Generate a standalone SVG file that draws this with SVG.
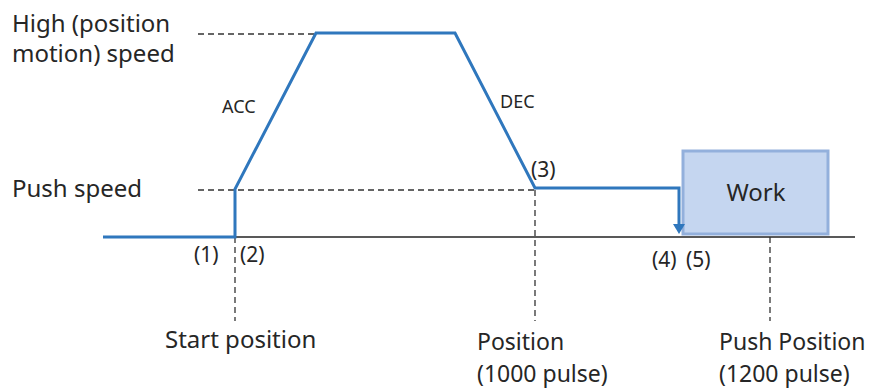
<svg xmlns="http://www.w3.org/2000/svg" width="876" height="390" viewBox="0 0 876 390">
<style>
text{font-family:"Noto Sans","Open Sans","Liberation Sans",sans-serif;fill:#262626}
.lbl{font-size:24px}
.two{font-size:23px}
.num{font-size:21px}
.sm{font-size:18px}
.dash{stroke:#333;stroke-width:1.3;stroke-dasharray:6 4;fill:none}
.blue{stroke:#2f77bd;stroke-width:3;fill:none;stroke-linejoin:miter}
</style>
<rect width="876" height="390" fill="#fff"/>
<g id="work">
<rect x="683" y="151" width="145" height="83" fill="#c5d6f0" stroke="#93b0dc" stroke-width="3"/>
<text class="lbl" x="756" y="201" text-anchor="middle">Work</text>
</g>
<g id="connectors">
<line x1="235" y1="237" x2="855" y2="237" stroke="#222" stroke-width="1.3"/>
<line class="dash" x1="198" y1="34" x2="316" y2="34"/>
<line class="dash" x1="198" y1="190" x2="535" y2="190"/>
<line class="dash" x1="235" y1="237" x2="235" y2="321"/>
<line class="dash" x1="535" y1="190" x2="535" y2="321"/>
<line class="dash" x1="770" y1="237" x2="770" y2="321"/>
<polyline class="blue" points="103,237 235,237 235,189 316,33 455,33 535,188 679,188 679,226"/>
<path d="M673,224 L685,224 L679,234 Z" fill="#2f77bd"/>
</g>
<g id="labels">
<text class="lbl" x="12" y="32">High (position<tspan x="12" y="62">motion) speed</tspan></text>
<text class="lbl" x="12" y="197">Push speed</text>
<text class="sm" x="222" y="113">ACC</text>
<text class="sm" x="500" y="108">DEC</text>
<text class="num" x="531" y="177">(3)</text>
<text class="num" x="194" y="262">(1)</text>
<text class="num" x="240" y="262">(2)</text>
<text class="num" x="652" y="267">(4)</text>
<text class="num" x="686" y="267">(5)</text>
<text class="lbl" x="165" y="348">Start position</text>
<text class="two" x="477" y="350">Position<tspan x="477" y="382">(1000 pulse)</tspan></text>
<text class="two" x="719" y="350">Push Position<tspan x="719" y="382">(1200 pulse)</tspan></text>
</g>
</svg>
